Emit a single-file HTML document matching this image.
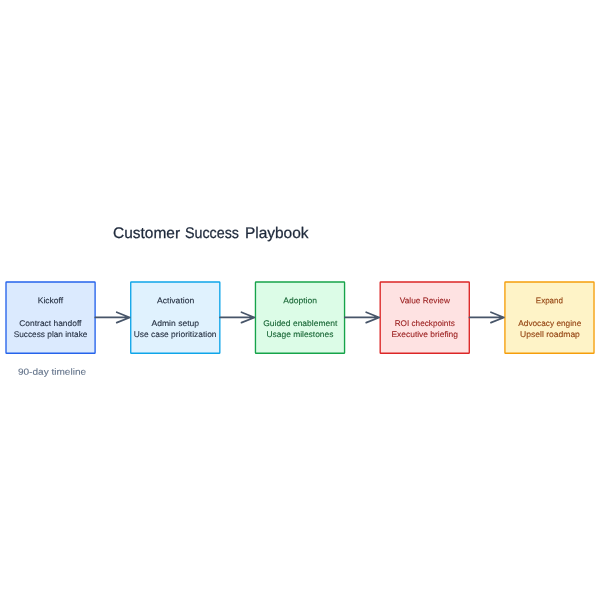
<!DOCTYPE html>
<html>
<head>
<meta charset="utf-8">
<title>Customer Success Playbook</title>
<style>
html,body{margin:0;padding:0;background:#ffffff;}
body{width:600px;height:600px;overflow:hidden;font-family:"Liberation Sans",sans-serif;}
svg{display:block;will-change:transform;}
text{font-family:"Liberation Sans",sans-serif;}
.t{font-size:8.2px;}
</style>
</head>
<body>
<svg width="600" height="600" viewBox="0 0 600 600">
<rect width="600" height="600" fill="#ffffff"/>
<!-- title -->
<g fill="#1e293b" font-size="15.4" stroke="#1e293b" stroke-width="0.25">
<text x="113.09" y="238.10" textLength="66.98" lengthAdjust="spacingAndGlyphs" transform="rotate(0.03 113.09 238.10)">Customer</text>
<text x="184.92" y="238.10" textLength="54.06" lengthAdjust="spacingAndGlyphs" transform="rotate(0.03 184.92 238.10)">Success</text>
<text x="244.93" y="238.10" textLength="63.57" lengthAdjust="spacingAndGlyphs" transform="rotate(0.03 244.93 238.10)">Playbook</text>
</g>
<!-- nodes -->
<g stroke-width="1.35">
<rect x="6.00" y="281.95" width="89.1" height="71.3" rx="0.6" fill="#dbeafe" stroke="#2563eb"/>
<rect x="130.73" y="281.95" width="89.1" height="71.3" rx="0.6" fill="#e0f2fe" stroke="#0ea5e9"/>
<rect x="255.46" y="281.95" width="89.1" height="71.3" rx="0.6" fill="#dcfce7" stroke="#16a34a"/>
<rect x="380.19" y="281.95" width="89.1" height="71.3" rx="0.6" fill="#fee2e2" stroke="#dc2626"/>
<rect x="504.92" y="281.95" width="89.1" height="71.3" rx="0.6" fill="#fef3c7" stroke="#f59e0b"/>
</g>
<!-- edges -->
<g stroke="#475569" stroke-width="1.7" fill="none" stroke-linecap="round" stroke-linejoin="round">
<path d="M95.30 317.45H129.73M116.73 312.25L129.73 317.45L116.73 322.65"/>
<path d="M220.03 317.45H254.46M241.46 312.25L254.46 317.45L241.46 322.65"/>
<path d="M344.76 317.45H379.19M366.19 312.25L379.19 317.45L366.19 322.65"/>
<path d="M469.49 317.45H503.92M490.92 312.25L503.92 317.45L490.92 322.65"/>
</g>
<g class="t" fill="#1e293b" stroke="#1e293b" stroke-width="0.1">
<text x="37.75" y="303.15" textLength="25.46" lengthAdjust="spacingAndGlyphs" transform="rotate(0.03 37.75 303.15)">Kickoff</text>
<text x="19.29" y="326.05" textLength="62.13" lengthAdjust="spacingAndGlyphs" transform="rotate(0.03 19.29 326.05)">Contract handoff</text>
<text x="13.66" y="337.00" textLength="73.74" lengthAdjust="spacingAndGlyphs" transform="rotate(0.03 13.66 337.00)">Success plan intake</text>
</g>
<g class="t" fill="#1e293b" stroke="#1e293b" stroke-width="0.1">
<text x="156.95" y="303.15" textLength="37.37" lengthAdjust="spacingAndGlyphs" transform="rotate(0.03 156.95 303.15)">Activation</text>
<text x="151.53" y="326.05" textLength="47.56" lengthAdjust="spacingAndGlyphs" transform="rotate(0.03 151.53 326.05)">Admin setup</text>
<text x="133.69" y="337.00" textLength="82.83" lengthAdjust="spacingAndGlyphs" transform="rotate(0.03 133.69 337.00)">Use case prioritization</text>
</g>
<g class="t" fill="#166534" stroke="#166534" stroke-width="0.1">
<text x="283.23" y="303.15" textLength="33.76" lengthAdjust="spacingAndGlyphs" transform="rotate(0.03 283.23 303.15)">Adoption</text>
<text x="263.18" y="326.05" textLength="74.12" lengthAdjust="spacingAndGlyphs" transform="rotate(0.03 263.18 326.05)">Guided enablement</text>
<text x="266.52" y="337.00" textLength="66.87" lengthAdjust="spacingAndGlyphs" transform="rotate(0.03 266.52 337.00)">Usage milestones</text>
</g>
<g class="t" fill="#991b1b" stroke="#991b1b" stroke-width="0.1">
<text x="399.79" y="303.15" textLength="50.11" lengthAdjust="spacingAndGlyphs" transform="rotate(0.03 399.79 303.15)">Value Review</text>
<text x="394.64" y="326.05" textLength="60.16" lengthAdjust="spacingAndGlyphs" transform="rotate(0.03 394.64 326.05)">ROI checkpoints</text>
<text x="391.50" y="337.00" textLength="66.49" lengthAdjust="spacingAndGlyphs" transform="rotate(0.03 391.50 337.00)">Executive briefing</text>
</g>
<g class="t" fill="#92400e" stroke="#92400e" stroke-width="0.1">
<text x="535.79" y="303.15" textLength="27.25" lengthAdjust="spacingAndGlyphs" transform="rotate(0.03 535.79 303.15)">Expand</text>
<text x="518.27" y="326.05" textLength="62.99" lengthAdjust="spacingAndGlyphs" transform="rotate(0.03 518.27 326.05)">Advocacy engine</text>
<text x="520.11" y="337.00" textLength="59.76" lengthAdjust="spacingAndGlyphs" transform="rotate(0.03 520.11 337.00)">Upsell roadmap</text>
</g>
<g font-size="9" fill="#64748b" stroke="#64748b" stroke-width="0.1">
<text x="17.93" y="374.65" textLength="68.19" lengthAdjust="spacingAndGlyphs" transform="rotate(0.03 17.93 374.65)">90-day timeline</text>
</g>
</svg>
</body>
</html>
